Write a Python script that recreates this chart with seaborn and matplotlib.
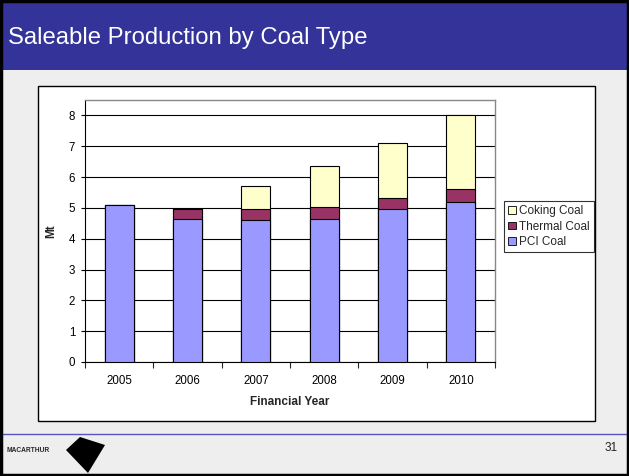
import pandas as pd
import matplotlib
matplotlib.use("Agg")
import matplotlib.pyplot as plt
import matplotlib.patches as mpatches
import seaborn as sns

YEARS = ["2005", "2006", "2007", "2008", "2009", "2010"]
PCI = [5.1, 4.65, 4.6, 4.65, 4.95, 5.2]
THERMAL = [0.0, 0.32, 0.36, 0.37, 0.36, 0.4]
COKING = [0.0, 0.0, 0.76, 1.33, 1.79, 2.4]
SERIES = ["Coking Coal", "Thermal Coal", "PCI Coal"]
COLORI = {"Coking Coal": "#FFFFCC", "Thermal Coal": "#993366", "PCI Coal": "#9999FF"}

W, H = 629, 476

df = pd.DataFrame({"anno": YEARS, "PCI Coal": PCI, "Thermal Coal": THERMAL, "Coking Coal": COKING})
# cumulati per impilare le barre
df["cum_pci"] = df["PCI Coal"]
df["cum_thermal"] = df["cum_pci"] + df["Thermal Coal"]
df["cum_coking"] = df["cum_thermal"] + df["Coking Coal"]

sns.set_style("white")
plt.rcParams["font.family"] = ["Liberation Sans", "DejaVu Sans"]

fig = plt.figure(figsize=(W / 100, H / 100), dpi=100)

def fx(x):
    return x / W

def fy(y):
    return 1 - y / H

# sfondo slide
fig.patches.append(mpatches.Rectangle((0, 0), 1, 1, transform=fig.transFigure,
                                      facecolor="#EEEEEE", edgecolor="none", zorder=-10))
fig.patches.append(mpatches.Rectangle((0, fy(70)), 1, 70 / H, transform=fig.transFigure,
                                      facecolor="#333399", edgecolor="none", zorder=-9))
fig.patches.append(mpatches.Rectangle((fx(38), fy(421)), fx(595 - 38), (421 - 86) / H,
                                      transform=fig.transFigure, facecolor="white",
                                      edgecolor="black", lw=1, zorder=-8))
fig.lines.append(plt.Line2D([fx(2), fx(627)], [fy(434), fy(434)], transform=fig.transFigure,
                            color="#5555BB", lw=1))
fig.patches.append(mpatches.Rectangle((fx(1), fy(475)), fx(627), 474 / H, transform=fig.transFigure,
                                      facecolor="none", edgecolor="black", lw=2.5, zorder=10))

fig.text(fx(8), fy(38), "Saleable Production by Coal Type", color="white", fontsize=17.2,
         va="center", ha="left")
fig.text(fx(618), fy(448), "31", fontsize=8.5, ha="right", va="center", color="#222222")

# logo
fig.text(fx(7), fy(450), "MACARTHUR", fontsize=4.8, fontweight="bold", ha="left", va="center")
fig.patches.append(mpatches.Polygon([(fx(66), fy(450)), (fx(80), fy(437)), (fx(105), fy(445)),
                                     (fx(88), fy(473))], closed=True, transform=fig.transFigure,
                                    facecolor="black", edgecolor="none"))

ax = fig.add_axes([fx(85), fy(362), fx(495 - 85), (362 - 100) / H])

for col, ser in [("cum_coking", "Coking Coal"), ("cum_thermal", "Thermal Coal"), ("cum_pci", "PCI Coal")]:
    sns.barplot(data=df, x="anno", y=col, color=COLORI[ser], edgecolor="black", linewidth=0.8,
                width=0.42, saturation=1, ax=ax, zorder=3)

ax.set_ylim(0, 8.5)
ax.set_yticks(range(0, 9))
ax.yaxis.grid(True, color="black", lw=0.8, zorder=0)
ax.set_axisbelow(True)
ax.set_ylabel("Mt", fontsize=8.5, fontweight="bold", labelpad=8)
ax.set_xlabel("Financial Year", fontsize=8.5, fontweight="bold", labelpad=7)
ax.tick_params(axis="both", labelsize=8.3, colors="black")
ax.tick_params(axis="y", which="major", direction="out", length=3, width=0.8, left=True, pad=4)
ax.tick_params(axis="x", which="major", length=0, pad=9)
ax.set_xticks([i + 0.5 for i in range(-1, len(YEARS))], minor=True)
ax.tick_params(axis="x", which="minor", direction="out", length=4, width=0.8, bottom=True)
ax.set_xlim(-0.5, len(YEARS) - 0.5)

for side in ["top", "right"]:
    ax.spines[side].set_color("#888888")
    ax.spines[side].set_linewidth(1)
for side in ["left", "bottom"]:
    ax.spines[side].set_color("black")
    ax.spines[side].set_linewidth(0.8)

handles = [mpatches.Patch(facecolor=COLORI[s], edgecolor="black", lw=0.6, label=s) for s in SERIES]
leg = fig.legend(handles=handles, loc="upper left", bbox_to_anchor=(fx(504), fy(201)),
                 fontsize=8.5, frameon=True, fancybox=False, handlelength=0.65, handleheight=0.65,
                 handletextpad=0.3, borderpad=0.35, labelspacing=0.3, borderaxespad=0)
leg.get_frame().set_edgecolor("black")
leg.get_frame().set_linewidth(0.8)

fig.savefig("out.png", dpi=100)
